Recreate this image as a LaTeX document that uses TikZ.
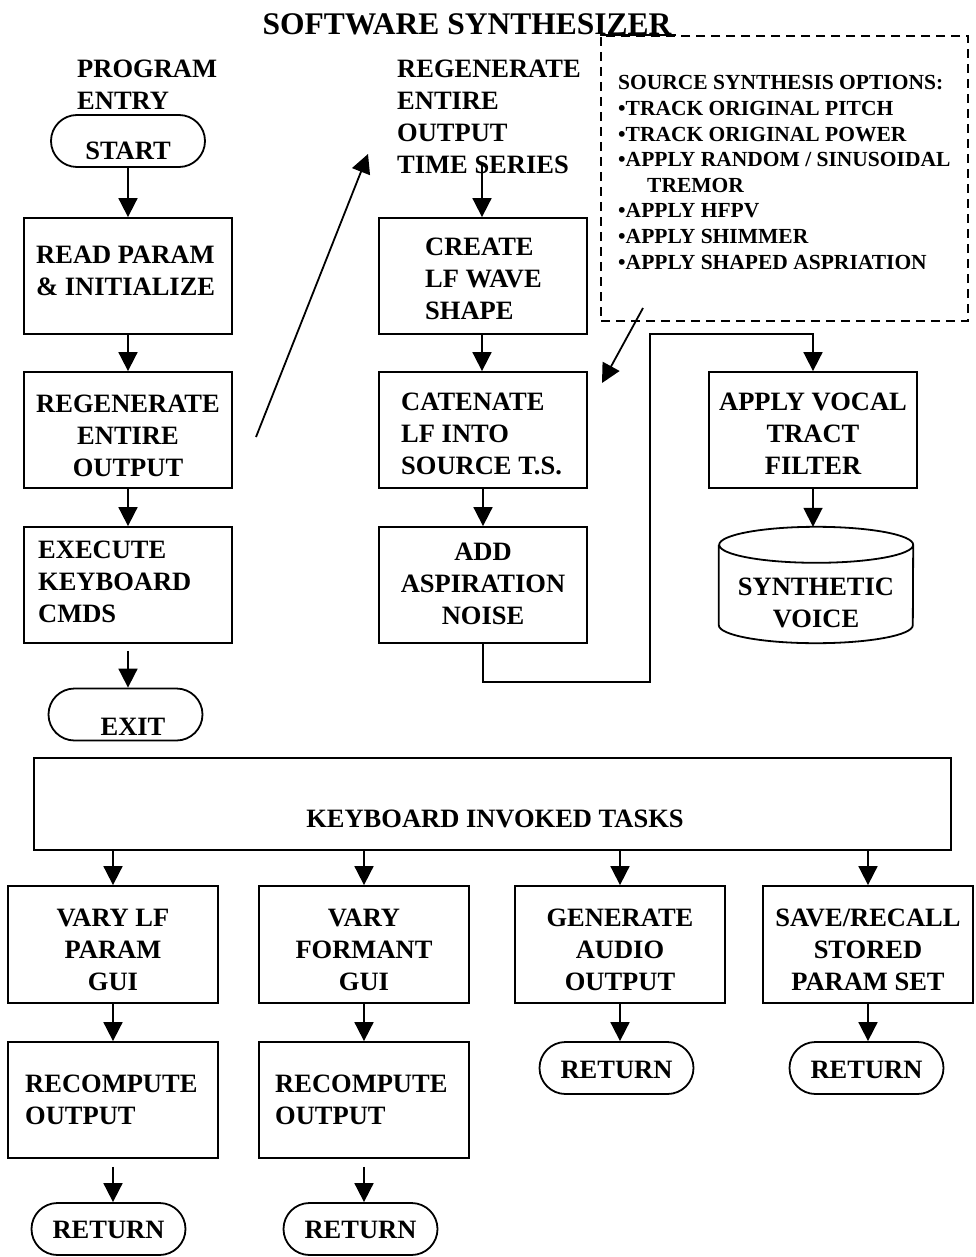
\documentclass[tikz,border=0pt]{standalone}
\usepackage{fontspec}
\setmainfont{Liberation Serif}
\usetikzlibrary{arrows.meta,calc}
% stacked lines of text; the node's base is the first line's baseline
\newcommand\mlines[2]{\begin{tabular}[t]{@{}#1@{}}#2\end{tabular}}
\newcommand\bodyfont{\fontsize{26.5}{32}\selectfont\bfseries}
\newcommand\optfont{\fontsize{21.5}{25.6}\selectfont\bfseries}
\newcommand\titlefont{\fontsize{31.5}{36}\selectfont\bfseries}

\begin{document}
\begin{tikzpicture}[x=1pt,y=-1pt,
  line/.style={line width=1.8pt},
  arr/.style={line, -{Triangle[length=19pt,width=19pt]}},
  box/.style={draw, line width=1.8pt, inner sep=0pt, minimum width=208pt, minimum height=116pt},
  wbox/.style={box, minimum width=210pt},
  term/.style={draw, line width=1.8pt, rounded corners=26pt, inner sep=0pt, minimum width=154pt, minimum height=52pt},
  txt/.style={inner sep=0pt, font=\bodyfont},
  opttxt/.style={inner sep=0pt, font=\optfont},
]
\useasboundingbox (0,0) rectangle (975,1257);

% title
\node[inner sep=0pt, font=\titlefont, anchor=base] (title) at (467,35) {SOFTWARE SYNTHESIZER};

% ---- main program flow ----
\node[txt, anchor=base west] (entry) at (77,78) {\mlines{l}{PROGRAM\\ENTRY}};
\node[term] (start) at (128,141) {};
\node[txt, anchor=base] (startT) at (128,160) {START};
\node[box] (read) at (128,276) {};
\node[txt, anchor=base west] (readT) at (36,263) {\mlines{l}{READ PARAM\\\& INITIALIZE}};
\node[box] (regen) at (128,430) {};
\node[txt, anchor=base] (regenT) at (128,412) {\mlines{c}{REGENERATE\\ENTIRE\\OUTPUT}};
\node[box] (exec) at (128,585) {};
\node[txt, anchor=base west] (execT) at (38,558) {\mlines{l}{EXECUTE\\KEYBOARD\\CMDS}};
\node[term] (exit) at (125.5,714.5) {};
\node[txt, anchor=base] (exitT) at (133,735) {EXIT};

\draw[arr] (start) -- (read);
\draw[arr] (read) -- (regen);
\draw[arr] (regen) -- (exec);
\draw[arr] ([yshift=-7pt]exec.south) -- (exec.south |- exit.north);

\coordinate (diagA) at (256,437);
\coordinate (diagB) at (368,154);
\draw[arr] (diagA) -- (diagB);

% ---- output regeneration ----
\node[txt, anchor=base west] (head) at (397,78) {\mlines{l}{REGENERATE\\ENTIRE\\OUTPUT\\TIME SERIES}};
\coordinate (headOut) at (482,163);
\node[box] (create) at (483,276) {};
\node[txt, anchor=base west] (createT) at (425,255) {\mlines{l}{CREATE\\LF WAVE\\SHAPE}};
\node[box] (cat) at (483,430) {};
\node[txt, anchor=base west] (catT) at (401,410) {\mlines{l}{CATENATE\\LF INTO\\SOURCE T.S.}};
\node[box] (add) at (483,585) {};
\node[txt, anchor=base] (addT) at (483,560) {\mlines{c}{ADD\\ASPIRATION\\NOISE}};

\draw[arr] (headOut) -- (headOut |- create.north);
\draw[arr] (create.south -| headOut) -- (cat.north -| headOut);
\draw[arr] (cat) -- (add);

\node[box] (vocal) at (813,430) {};
\node[txt, anchor=base] (vocalT) at (813,410) {\mlines{c}{APPLY VOCAL\\TRACT\\FILTER}};
\node[inner sep=0pt, minimum width=194pt, minimum height=116pt] (syn) at (816,585) {};
\draw[line]
  ([yshift=-18pt]syn.north west) -- ([yshift=18pt]syn.south west)
  arc[start angle=180, end angle=360, x radius=97pt, y radius=18pt]
  -- ([yshift=-18pt]syn.north east)
  arc[start angle=0, end angle=360, x radius=97pt, y radius=18pt];
\node[txt, anchor=base] (synT) at (816,595) {\mlines{c}{SYNTHETIC\\VOICE}};

\coordinate (bend) at (650,334);
\draw[arr] (add.south) -- ++(0,38) -| (bend) -| (vocal.north);
\draw[arr] (vocal.south -| syn.north) ++(-3,0) -- ([xshift=-3pt]syn.north);

% source synthesis options
\node[draw, dash pattern=on 9pt off 6pt, line width=1.6pt, inner sep=0pt,
      minimum width=367pt, minimum height=285pt] (opt) at (784.5,178.5) {};
\draw[line width=1.6pt] (opt.north west) -- ++(76,0);
\node[opttxt, anchor=base west] (optT) at (618,90) {\mlines{l}{SOURCE SYNTHESIS OPTIONS:\\
  •TRACK ORIGINAL PITCH\\
  •TRACK ORIGINAL POWER\\
  •APPLY RANDOM / SINUSOIDAL\\
  \hspace*{29pt}TREMOR\\
  •APPLY HFPV\\
  •APPLY SHIMMER\\
  •APPLY SHAPED ASPRIATION}};
\coordinate (optA) at (643,308);
\coordinate (optB) at (602,383);
\draw[arr] (optA) -- (optB);

% ---- keyboard tasks ----
\node[draw, line width=1.8pt, inner sep=0pt, minimum width=917pt, minimum height=92pt] (kb) at (492.5,804) {};
\node[txt, anchor=base] (kbT) at (495,827) {KEYBOARD INVOKED TASKS};

\node[wbox, minimum height=117pt] (g1) at (113,944.5) {};
\node[wbox, minimum height=117pt] (g2) at (364,944.5) {};
\node[wbox, minimum height=117pt] (g3) at (620,944.5) {};
\node[wbox, minimum height=117pt] (g4) at (868,944.5) {};
\node[txt, anchor=base] (g1T) at (113,926) {\mlines{c}{VARY LF\\PARAM\\GUI}};
\node[txt, anchor=base] (g2T) at (364,926) {\mlines{c}{VARY\\FORMANT\\GUI}};
\node[txt, anchor=base] (g3T) at (620,926) {\mlines{c}{GENERATE\\AUDIO\\OUTPUT}};
\node[txt, anchor=base] (g4T) at (868,926) {\mlines{c}{SAVE/RECALL\\STORED\\PARAM SET}};
\foreach \g in {g1,g2,g3,g4}
  \draw[arr] (kb.south -| \g.north) -- (\g.north);

\node[wbox] (r1) at (113,1100) {};
\node[wbox] (r2) at (364,1100) {};
\node[txt, anchor=base west] (r1T) at (25,1092) {\mlines{l}{RECOMPUTE\\OUTPUT}};
\node[txt, anchor=base west] (r2T) at (275,1092) {\mlines{l}{RECOMPUTE\\OUTPUT}};
\node[term] (r3) at (616.5,1068) {};
\node[term] (r4) at (866.5,1068) {};
\node[txt, anchor=base] (r3T) at (616.5,1078) {RETURN};
\node[txt, anchor=base] (r4T) at (866.5,1078) {RETURN};
\draw[arr] (g1) -- (r1);
\draw[arr] (g2) -- (r2);
\draw[arr] (g3.south) -- (g3.south |- r3.north);
\draw[arr] (g4.south) -- (g4.south |- r4.north);

\node[term] (t1) at (108.5,1229) {};
\node[term] (t2) at (360.5,1229) {};
\node[txt, anchor=base] (t1T) at (108.5,1238) {RETURN};
\node[txt, anchor=base] (t2T) at (360.5,1238) {RETURN};
\draw[arr] ([yshift=-8pt]r1.south) -- (r1.south |- t1.north);
\draw[arr] ([yshift=-8pt]r2.south) -- (r2.south |- t2.north);
\end{tikzpicture}
\end{document}
